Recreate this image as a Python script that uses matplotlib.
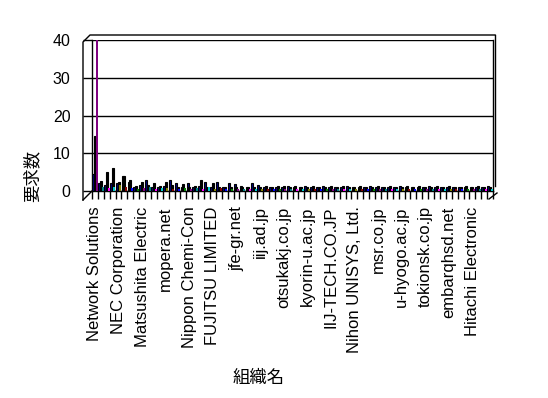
import matplotlib
matplotlib.use("Agg")
import matplotlib.pyplot as plt
import numpy as np
from matplotlib.lines import Line2D

plt.rcParams["font.family"] = ["Liberation Sans", "Noto Sans CJK JP", "DejaVu Sans"]

# organisations shown on the axis (every 4th of 68 categories)
shown_labels = [
    "Network Solutions", "NEC Corporation", "Matsushita Electric", "mopera.net",
    "Nippon Chemi-Con", "FUJITSU LIMITED", "jfe-gr.net", "iij.ad.jp",
    "otsukakj.co.jp", "kyorin-u.ac.jp", "IIJ-TECH.CO.JP", "Nihon UNISYS, Ltd.",
    "msr.co.jp", "u-hyogo.ac.jp", "tokionsk.co.jp", "embarqhsd.net",
    "Hitachi Electronic",
]
n_categories = 68
label_step = 4

# request counts per organisation, three series
series_1 = [
    4.6, 2.0, 1.7, 2.2, 2.1, 3.9, 2.4, 1.0, 1.7, 2.8, 1.0, 1.0, 1.2, 3.0, 2.0, 1.0,
    2.1, 1.0, 1.2, 2.5, 1.0, 2.3, 1.0, 2.1, 1.9, 1.2, 1.0, 2.0, 1.5, 1.0, 1.0, 1.0,
    1.0, 1.2, 1.0, 1.0, 1.2, 1.0, 1.0, 1.2, 1.0, 1.0, 1.0, 1.2, 1.0, 1.0, 1.0, 1.2,
    1.0, 1.0, 1.0, 1.0, 1.2, 1.0, 1.0, 1.0, 1.0, 1.2, 1.0, 1.0, 1.0, 1.0, 1.0, 1.0,
    1.0, 1.0, 1.0, 1.2,
]
series_2 = [
    14.6, 2.6, 5.0, 6.0, 2.4, 4.1, 2.8, 1.2, 2.4, 1.5, 2.1, 1.2, 2.5, 1.7, 1.0, 1.9,
    1.0, 1.2, 2.9, 1.0, 2.1, 1.0, 1.0, 1.0, 1.0, 1.0, 1.0, 1.0, 1.0, 1.2, 1.0, 1.3,
    1.2, 1.0, 1.3, 1.0, 1.0, 1.3, 1.0, 1.0, 1.2, 1.0, 1.3, 1.0, 1.0, 1.2, 1.0, 1.0,
    1.2, 1.0, 1.2, 1.0, 1.0, 1.2, 1.0, 1.2, 1.0, 1.0, 1.2, 1.0, 1.2, 1.0, 1.0, 1.2,
    1.0, 1.2, 1.0, 1.0,
]
series_3 = [
    40.0, 1.0, 0.8, 1.0, 1.5, 1.0, 0.8, 0.6, 0.8, 1.0, 0.6, 0.8, 0.7, 0.5, 0.6, 0.8,
    0.6, 0.8, 0.5, 1.0, 0.6, 0.8, 0.5, 0.6, 0.5, 0.6, 0.5, 0.6, 0.5, 0.6, 0.5, 0.6,
    0.5, 0.6, 0.5, 0.5, 0.6, 0.5, 0.5, 0.6, 0.5, 0.5, 0.6, 0.5, 0.5, 0.6, 0.5, 0.5,
    0.6, 0.5, 0.5, 0.6, 0.5, 0.5, 0.6, 0.5, 0.5, 0.6, 0.5, 0.5, 0.6, 0.5, 0.5, 0.6,
    0.5, 0.5, 0.6, 0.5,
]
y_ticks = [0, 10, 20, 30, 40]

palette = ["#800080", "#008080", "#FF00FF", "#00CCCC", "#808000", "#800000", "#0000FF", "#008000"]

W, H = 548, 398
fig = plt.figure(figsize=(W / 100, H / 100), dpi=100)
fig.patch.set_facecolor("white")


def fx(px):
    return px / W


def fy(py):
    return 1 - py / H


ax = fig.add_axes([fx(92), fy(191), fx(493) - fx(92), fy(40) - fy(191)])

x = np.arange(n_categories)
w = 0.34
ax.bar(x - 0.3, series_1, w, color="#000080", edgecolor="black", linewidth=0.8, zorder=3)
ax.bar(x, series_2, w, color="#000000", edgecolor="black", linewidth=0.8, zorder=3)
colors_3 = [palette[i % len(palette)] for i in range(n_categories)]
ax.bar(x + 0.3, series_3, w, color=colors_3, edgecolor="none", linewidth=0, zorder=4)

ax.set_xlim(-0.5, n_categories - 0.5)
ax.set_ylim(0, 40)

ax.set_yticks(y_ticks)
ax.tick_params(axis="y", direction="out", length=6.5, width=1, pad=9, labelsize=11.5)
ax.yaxis.grid(True, color="black", linewidth=1)
ax.set_axisbelow(True)

ax.set_xticks(x[::label_step])
ax.set_xticklabels(shown_labels, rotation=90, fontsize=12, va="top", ha="center")
ax.set_xticks(np.arange(n_categories + 1) - 0.5, minor=True)
ax.tick_params(axis="x", which="major", length=0, pad=11)
ax.tick_params(axis="x", which="minor", direction="out", length=6, width=1)

ax.spines["top"].set_visible(False)
for s in ["left", "right", "bottom"]:
    ax.spines[s].set_linewidth(1)
    ax.spines[s].set_color("black")

# 3d wall outline
fig.add_artist(Line2D([fx(83), fx(83), fx(90), fx(495)],
                      [fy(200), fy(42), fy(35), fy(35)], color="black", linewidth=1))
fig.add_artist(Line2D([fx(495), fx(495)], [fy(35), fy(186)], color="black", linewidth=1))
fig.add_artist(Line2D([fx(83), fx(92)], [fy(200), fy(191)], color="black", linewidth=1))
fig.add_artist(Line2D([fx(489), fx(497)], [fy(199), fy(193)], color="black", linewidth=1))

fig.text(fx(32), fy(176), "要求数", rotation=90, ha="center", va="center",
         fontsize=12.5, family=["Noto Sans CJK JP", "DejaVu Sans"])
fig.text(fx(259), fy(378), "組織名", ha="center", va="center",
         fontsize=12.5, family=["Noto Sans CJK JP", "DejaVu Sans"])

fig.savefig("out.png", dpi=100)
